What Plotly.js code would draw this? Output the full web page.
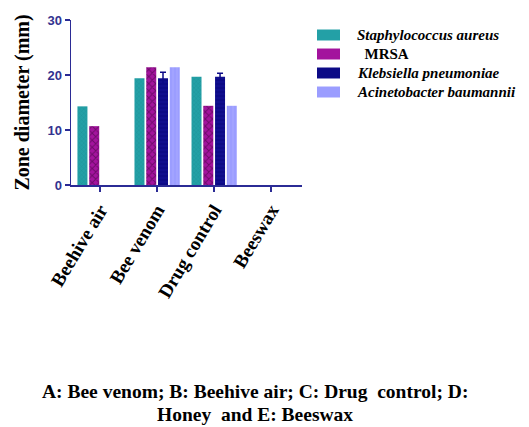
<!DOCTYPE html>
<html>
<head>
<meta charset="utf-8">
<script src="https://cdn.plot.ly/plotly-3.0.1.min.js"></script>
<style>html,body{margin:0;padding:0;background:#fff;}#chart{width:529px;height:427px;}</style>
</head>
<body>
<div id="chart"></div>
<script>
var categories = ["Beehive air", "Bee venom", "Drug control", "Beeswax"];
var seriesNames = ["<i>Staphylococcus aureus</i>", "&nbsp;&nbsp;MRSA", "<i>Klebsiella pneumoniae</i>", "<i>Acinetobacter baumannii</i>"];
var staphValues = [14.3, 19.4, 19.7, 0];
var mrsaValues = [10.7, 21.4, 14.4, 0];
var klebValues = [null, 19.4, 19.7, null];
var klebErrors = [0, 1.1, 0.6, 0];
var acinetoValues = [0, 21.4, 14.4, 0];
var yTicks = [0, 10, 20, 30];

var SERIF = "Times New Roman, DejaVu Serif, serif";
var colors = ["#23a0a6", "#a3139d", "#0c0a86", "#9b9dff"];
var patterns = [
  {shape: "x", size: 3, solidity: 0.15, fgcolor: "#1a858b", bgcolor: "#23a0a6"},
  {shape: "x", size: 5, solidity: 0.35, fgcolor: "#6e0a6a", bgcolor: "#a3139d"},
  {shape: "-", size: 4, solidity: 0.12, fgcolor: "#1c1aa6", bgcolor: "#0c0a86"},
  {shape: "|", size: 4, solidity: 0.15, fgcolor: "#b0b2ff", bgcolor: "#9b9dff"}
];
var values = [staphValues, mrsaValues, klebValues, acinetoValues];

var traces = values.map(function(v, i) {
  var t = {
    type: "bar",
    x: categories,
    y: v,
    name: seriesNames[i],
    showlegend: false,
    marker: {color: colors[i], pattern: patterns[i], line: {width: 0}},
    hoverinfo: "x+y"
  };
  if (i === 2) {
    t.error_y = {type: "data", array: klebErrors, visible: true, color: "#0c0a86", thickness: 1.5, width: 3};
  }
  return t;
});

// manual legend (swatches + labels) placed in paper coordinates
var legendY = [0.9091, 0.7939, 0.6788, 0.5636];
var legendShapes = seriesNames.map(function(n, i) {
  return {type: "rect", xref: "paper", yref: "paper",
    x0: 1.0649, x1: 1.1645, y0: legendY[i] - 0.0333, y1: legendY[i] + 0.0333,
    fillcolor: colors[i], line: {width: 0}};
});
var legendTexts = seriesNames.map(function(n, i) {
  return {xref: "paper", yref: "paper", x: 1.2294, y: legendY[i], xanchor: "left", yanchor: "middle",
    showarrow: false, text: n,
    font: {family: SERIF, size: 15, color: "#000", weight: "bold"}};
});

var layout = {
  width: 529,
  height: 427,
  margin: {l: 71, r: 227, t: 20, b: 242},
  paper_bgcolor: "#fff",
  plot_bgcolor: "#fff",
  barmode: "group",
  bargap: 0.175,
  bargroupgap: 0.15,
  showlegend: false,
  xaxis: {
    type: "category",
    range: [-0.51, 3.54],
    showline: true, linecolor: "#2b2b95", linewidth: 1.5,
    ticks: "outside", ticklen: 5, tickwidth: 1.5, tickcolor: "#2b2b95",
    tickangle: -59,
    tickfont: {family: SERIF, size: 19, color: "#000", weight: "bold"},
    showgrid: false, zeroline: false, fixedrange: true
  },
  yaxis: {
    range: [0, 30],
    tickvals: yTicks,
    ticktext: yTicks.map(String),
    showline: true, linecolor: "#2b2b95", linewidth: 1.5,
    ticks: "outside", ticklen: 5, tickwidth: 1.5, tickcolor: "#2b2b95",
    tickfont: {family: "Arial, Liberation Sans, sans-serif", size: 13, color: "#33338f", weight: "bold"},
    showgrid: false, zeroline: false, fixedrange: true,
    title: {text: "Zone diameter (mm)", standoff: 12,
      font: {family: SERIF, size: 20, color: "#000", weight: "bold"}}
  },
  shapes: legendShapes,
  annotations: legendTexts.concat([
    {xref: "paper", yref: "paper", x: 0.7965, y: -1.2485, xanchor: "center", yanchor: "middle", showarrow: false,
     text: "A: Bee venom; B: Beehive air; C: Drug&nbsp;&nbsp;control; D:",
     font: {family: SERIF, size: 19.5, color: "#000", weight: "bold"}},
    {xref: "paper", yref: "paper", x: 0.7965, y: -1.3879, xanchor: "center", yanchor: "middle", showarrow: false,
     text: "Honey&nbsp;&nbsp;and E: Beeswax",
     font: {family: SERIF, size: 19.5, color: "#000", weight: "bold"}}
  ])
};

Plotly.newPlot("chart", traces, layout, {displayModeBar: false, staticPlot: true});
</script>
</body>
</html>
